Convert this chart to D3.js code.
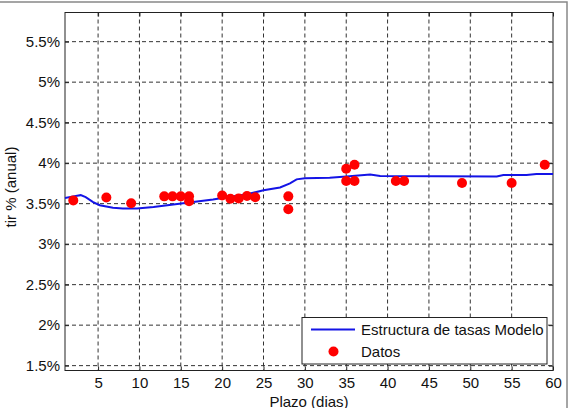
<!DOCTYPE html>
<html>
<head>
<meta charset="utf-8">
<script src="https://cdn.jsdelivr.net/npm/d3@7"></script>
<style>
  body { margin: 0; background: #fff; }
  svg { font-family: 'Liberation Sans', Arial, sans-serif; }
</style>
</head>
<body>
<svg id="chart" width="570" height="408"></svg>
<script>
// curva del modelo (plazo, tir %)
const modelDays = [1, 2, 2.9, 3.5, 4.4, 5.2, 6.8, 8, 9.7, 11.7, 14.1, 16, 18.9, 20, 23, 25, 27, 28.2, 29, 30, 33, 35, 37.9, 39.1, 53.2, 54, 56.8, 58, 60];
const modelRate = [3.57, 3.59, 3.605, 3.58, 3.52, 3.48, 3.45, 3.44, 3.44, 3.46, 3.49, 3.515, 3.55, 3.57, 3.615, 3.665, 3.70, 3.75, 3.80, 3.815, 3.82, 3.835, 3.86, 3.84, 3.835, 3.853, 3.853, 3.866, 3.866];

// datos observados
const dataDays = [2, 6, 9, 13, 14, 15, 16, 16, 20, 21, 22, 23, 24, 28, 28, 35, 35, 36, 36, 41, 42, 49, 55, 59];
const dataRate = [3.54, 3.575, 3.505, 3.59, 3.59, 3.59, 3.59, 3.53, 3.60, 3.56, 3.565, 3.595, 3.58, 3.59, 3.43, 3.93, 3.78, 3.98, 3.78, 3.78, 3.78, 3.755, 3.755, 3.98];

const xTicks = [5, 10, 15, 20, 25, 30, 35, 40, 45, 50, 55, 60];
const yTicks = [1.5, 2, 2.5, 3, 3.5, 4, 4.5, 5, 5.5];

const svg = d3.select('#chart');
const fs = '15px';

let plot = { left: 65, right: 553, top: 12.5, bottom: 370.5 };

// marco gris de la figura
svg.append('rect')
  .attr('x', -5).attr('y', 2)
  .attr('width', 572).attr('height', 420)
  .attr('fill', 'none')
  .attr('stroke', '#888')
  .attr('stroke-width', 1.5);

let x = d3.scaleLinear().domain([1, 60]).range([plot.left, plot.right]);
let y = d3.scaleLinear().domain([1.44, 5.86]).range([plot.bottom, plot.top]);

// grid
svg.append('g')
  .selectAll('line')
  .data(xTicks.filter(d => d < 60))
  .enter()
  .append('line')
  .attr('x1', d => x(d)).attr('x2', d => x(d))
  .attr('y1', plot.top).attr('y2', plot.bottom)
  .attr('stroke', '#333')
  .attr('stroke-dasharray', '4,3');

svg.append('g')
  .selectAll('line')
  .data(yTicks)
  .enter()
  .append('line')
  .attr('x1', plot.left).attr('x2', plot.right)
  .attr('y1', d => y(d)).attr('y2', d => y(d))
  .attr('stroke', '#333')
  .attr('stroke-dasharray', '4,3');

// ejes con ticks hacia dentro
svg.append('g')
  .attr('transform', `translate(0, ${plot.bottom})`)
  .call(d3.axisBottom(x).tickValues(xTicks).tickSize(-4).tickPadding(7))
  .call(g => g.select('.domain').remove());

svg.append('g')
  .attr('transform', `translate(0, ${plot.top})`)
  .call(d3.axisTop(x).tickValues(xTicks).tickSize(-4).tickFormat(''))
  .call(g => g.select('.domain').remove());

svg.append('g')
  .attr('transform', `translate(${plot.left}, 0)`)
  .call(d3.axisLeft(y).tickValues(yTicks).tickSize(-4).tickPadding(5).tickFormat(d => d + '%'))
  .call(g => g.select('.domain').remove());

svg.append('g')
  .attr('transform', `translate(${plot.right}, 0)`)
  .call(d3.axisRight(y).tickValues(yTicks).tickSize(-4).tickFormat(''))
  .call(g => g.select('.domain').remove());

svg.selectAll('.tick text')
  .attr('font-size', fs)
  .attr('font-family', "'Liberation Sans', Arial, sans-serif")
  .attr('fill', '#111');
svg.selectAll('.tick line').attr('stroke', '#222');

svg.append('rect')
  .attr('x', plot.left).attr('y', plot.top)
  .attr('width', plot.right - plot.left).attr('height', plot.bottom - plot.top)
  .attr('fill', 'none')
  .attr('stroke', '#222');

// curva modelo
let line = d3.line()
  .x((d, i) => x(modelDays[i]))
  .y(d => y(d));

svg.append('path')
  .datum(modelRate)
  .attr('d', line)
  .attr('fill', 'none')
  .attr('stroke', '#1414e6')
  .attr('stroke-width', 2);

// puntos
svg.selectAll('.datos')
  .data(dataRate)
  .enter()
  .append('circle')
  .attr('class', 'datos')
  .attr('cx', (d, i) => x(dataDays[i]))
  .attr('cy', d => y(d))
  .attr('r', 5)
  .attr('fill', '#ff0000');

// etiquetas
svg.append('text')
  .attr('x', (plot.left + plot.right) / 2)
  .attr('y', 406.5)
  .attr('text-anchor', 'middle')
  .attr('font-size', fs)
  .attr('fill', '#111')
  .text('Plazo (dias)');

svg.append('text')
  .attr('transform', 'translate(16, 187) rotate(-90)')
  .attr('text-anchor', 'middle')
  .attr('font-size', fs)
  .attr('fill', '#111')
  .text('tir % (anual)');

// leyenda
let legend = svg.append('g');
legend.append('rect')
  .attr('x', 302).attr('y', 317.5)
  .attr('width', 245).attr('height', 46.5)
  .attr('fill', '#fff')
  .attr('stroke', '#222');
legend.append('line')
  .attr('x1', 311).attr('x2', 355)
  .attr('y1', 329.5).attr('y2', 329.5)
  .attr('stroke', '#1414e6')
  .attr('stroke-width', 2);
legend.append('circle')
  .attr('cx', 333.5).attr('cy', 351.5)
  .attr('r', 5)
  .attr('fill', '#ff0000');
legend.append('text')
  .attr('x', 361).attr('y', 329.5)
  .attr('dy', '0.35em')
  .attr('font-size', fs)
  .attr('fill', '#111')
  .text('Estructura de tasas Modelo');
legend.append('text')
  .attr('x', 361).attr('y', 351.5)
  .attr('dy', '0.35em')
  .attr('font-size', fs)
  .attr('fill', '#111')
  .text('Datos');
</script>
</body>
</html>
